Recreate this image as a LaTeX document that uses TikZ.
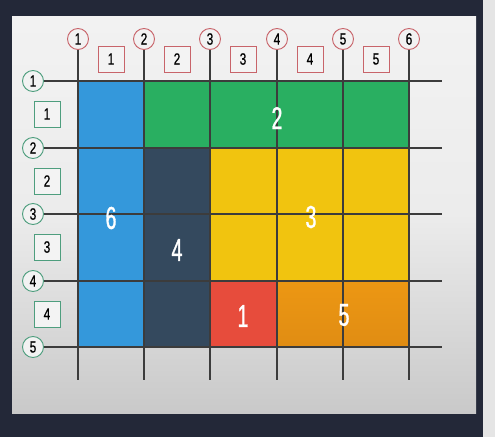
\documentclass[tikz,border=0pt]{standalone}
\usepackage{fontspec}
\newfontfamily\numfont[FakeStretch=0.72,FakeBold=0.6]{Liberation Sans}
\newfontfamily\bignumfont[FakeStretch=0.62,FakeBold=1]{Liberation Sans}

\definecolor{framedark}{HTML}{232838}
\definecolor{paneltop}{HTML}{F2F2F2}
\definecolor{panelbottom}{HTML}{C9C9C9}
\definecolor{areablue}{HTML}{3498DB}
\definecolor{areagreen}{HTML}{29AF61}
\definecolor{areanavy}{HTML}{34495E}
\definecolor{areayellow}{HTML}{F1C40F}
\definecolor{areared}{HTML}{E74C3C}
\definecolor{areaorange}{HTML}{EC9414}
\definecolor{colred}{HTML}{C8646A}
\definecolor{rowgreen}{HTML}{4E9E7E}
\definecolor{gridgray}{HTML}{3C3C3C}

\begin{document}
\begin{tikzpicture}[x=0.03cm,y=-0.03cm]
        \tikzstyle{every node}=[font=\numfont\fontsize{14}{14}\selectfont]
        \tikzstyle{colmark}=[circle,draw=colred,line width=0.8pt,fill=paneltop,minimum size=0.63cm,inner sep=0pt]
        \tikzstyle{rowmark}=[circle,draw=rowgreen,line width=0.8pt,fill=paneltop,minimum size=0.63cm,inner sep=0pt]
        \tikzstyle{colspan}=[rectangle,draw=colred,line width=0.8pt,fill=paneltop!90!white,minimum size=0.78cm,inner sep=0pt]
        \tikzstyle{rowspan}=[rectangle,draw=rowgreen,line width=0.8pt,fill=paneltop!90!white,minimum size=0.78cm,inner sep=0pt]
        \tikzstyle{gridline}=[draw=gridgray,line width=1.1pt]
        \tikzstyle{arealabel}=[text=white,font=\bignumfont\fontsize{27}{27}\selectfont]

        % frame and panel
        \fill[framedark] (0,0) rectangle (495,437);
        \fill[gray!20] (483,0) rectangle (495,437);
        \shade[top color=paneltop,bottom color=panelbottom,middle color=paneltop!85!panelbottom] (12,16) rectangle (476,413);

        % areas
        \fill[areablue] (78,81) rectangle (144,347);
        \fill[areagreen] (144,81) rectangle (409,148);
        \fill[areanavy] (144,148) rectangle (210,347);
        \fill[areayellow] (210,148) rectangle (409,281);
        \fill[areared] (210,281) rectangle (277,347);
        \shade[top color=areaorange!97!yellow,bottom color=areaorange!95!black] (277,281) rectangle (409,347);

        % grid lines
        \foreach \x [count=\i] in {78,144,210,277,343,409} {
            \node[colmark] (col\i) at (\x,39) {\i};
            \coordinate (colend\i) at (\x,380);
            \draw[gridline] (col\i.south) -- (colend\i);
        }
        \foreach \y [count=\i] in {81,148,214,281,347} {
            \node[rowmark] (row\i) at (33,\y) {\i};
            \coordinate (rowend\i) at (442,\y);
            \draw[gridline] (row\i.east) -- (rowend\i);
        }

        % spans
        \foreach \x [count=\i] in {111,177,243,310,376}
            \node[colspan] (colspan\i) at (\x,59) {\i};
        \foreach \y [count=\i] in {114,181,247,314}
            \node[rowspan] (rowspan\i) at (47,\y) {\i};

        % area numbers
        \node[arealabel] (label1) at (243,316) {1};
        \node[arealabel] (label2) at (277,118) {2};
        \node[arealabel] (label3) at (311,217) {3};
        \node[arealabel] (label4) at (177,250) {4};
        \node[arealabel] (label5) at (344,315) {5};
        \node[arealabel] (label6) at (111,218) {6};
    \end{tikzpicture}
\end{document}
